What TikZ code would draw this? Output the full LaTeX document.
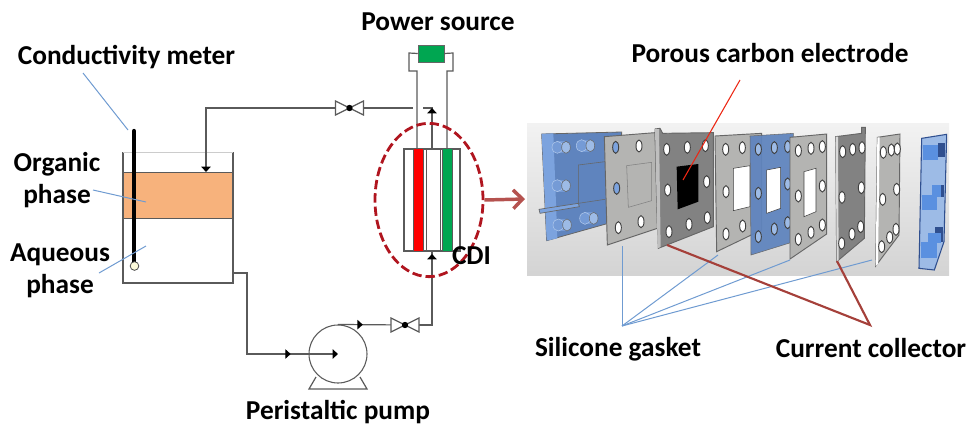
\documentclass[tikz,border=0pt]{standalone}
\usepackage{fontspec}
\setmainfont{Carlito}
\usetikzlibrary{positioning, shapes.geometric, arrows.meta, decorations.markings, calc}

\definecolor{pipegray}{HTML}{5A5A5A}
\definecolor{leadblue}{HTML}{6F9BD1}
\definecolor{leadred}{HTML}{A5403A}
\definecolor{ringred}{HTML}{B0151F}
\definecolor{arrowred}{HTML}{B5524F}
\definecolor{organicfill}{HTML}{F7B27C}
\definecolor{cellgreen}{HTML}{00A651}
\definecolor{platelight}{HTML}{B4B4B2}
\definecolor{platedark}{HTML}{828282}
\definecolor{plateblue}{HTML}{5F84BE}
\definecolor{platestrip}{HTML}{7CA3DE}
\definecolor{blocklight}{HTML}{9DBBE6}
\definecolor{blockbright}{HTML}{5A90E0}
\definecolor{blockdark}{HTML}{2F4F8F}

\newcommand{\plateholes}[2]{%
  \foreach \p in {#2} \draw[hole, fill=#1] \p ellipse (9 and 18);}
\newcommand{\valvesym}[1]{%
  \draw[pipe, fill=white] ($(#1)+(-14,-7)$) -- ($(#1)+(14,7)$) -- ($(#1)+(14,-7)$)
    -- ($(#1)+(-14,7)$) -- cycle;
  \fill[black] (#1) circle (3.2);}

\begin{document}
\begin{tikzpicture}[x=0.75pt, y=-0.75pt,
      lab/.style={font=\fontsize{20.5}{24}\selectfont\bfseries, inner sep=0pt, align=center},
      pipe/.style={draw=pipegray, line width=0.9pt},
      tipend/.style={-{Triangle[length=4pt,width=7pt,color=black]}},
      tip/.style={decoration={markings, mark=at position #1 with
                  {\arrow{Triangle[length=4pt,width=7pt,color=black]}}}, postaction={decorate}},
      lead/.style={draw=leadblue, line width=0.75pt},
      leadr/.style={draw=leadred, line width=1.6pt},
      hole/.style={draw=black!75, line width=0.7pt},
      plate/.style={draw=black!60, line width=0.7pt, fill=platelight},
      darkplate/.style={plate, fill=platedark},
      zoomed/.style={shift={(520,110)}, x=0.25pt, y=-0.25pt},
    ]
    \useasboundingbox (0,0) rectangle (968,425);

    % ---- tank ------------------------------------------------------
    \node[draw=pipegray, line width=0.7pt, fill=organicfill, minimum width=82.5pt,
          minimum height=34.5pt, inner sep=0pt] (organic) at (178,195) {};
    \draw[pipe] (123,152) -- (123,283) -- (233,283) -- (233,152);
    \draw[black!20, line width=0.5pt] (123,152) -- (233,152);
    \coordinate (tankout) at (233,273);
    \coordinate (tankin) at (206,172);

    % ---- probe -----------------------------------------------------
    \draw[black, line width=3.2pt, line cap=round] (134,131) -- (134,262);
    \node[circle, draw=black!70, fill=black!10!yellow!15!white, minimum size=6.5pt,
          inner sep=0pt, line width=0.6pt] (bulb) at (134.5,266) {};

    % ---- cell ------------------------------------------------------
    \node[draw=pipegray, line width=0.8pt, minimum width=42pt, minimum height=76.5pt,
          inner sep=0pt] (cdi) at (432,200) {};
    \fill[red] (413,149) rectangle (423,251);
    \fill[cellgreen] (442,149) rectangle (452,251);
    \foreach \xx in {413,423,426,440,442,452}
      \draw[pipegray, line width=0.7pt] (\xx,149) -- (\xx,251);

    % ---- power source ----------------------------------------------
    \node[draw=black!60, fill=cellgreen, minimum width=19.5pt,
          minimum height=12.5pt, inner sep=0pt] (power) at (431,53.5) {};
    \coordinate (wireL) at (417,149);
    \coordinate (wireR) at (447,149);
    \draw[pipe] (power.west) -- (409,53) -- (409,71) -- (417,71) -- (wireL);
    \draw[pipe] (power.east) -- (453,53) -- (453,71) -- (447,71) -- (wireR);

    % ---- pump and valves -------------------------------------------
    \node[circle, draw=pipegray, line width=0.8pt, minimum size=43.5pt, inner sep=0pt]
      (pump) at (338,354) {};
    \coordinate (valveA) at (349.5,108);
    \coordinate (valveB) at (405,325);
    \draw[pipe] (316,377) -- (309,389) -- (367,389) -- (360,377);

    % ---- pipes -----------------------------------------------------
    \draw[pipe] (tankout) -- (247,273) -- (247,354) -- (pump.west);
    \draw[pipe, tip=0.48, tipend] (247,354) -- (pump.center);
    \draw[pipe, tip=0.37] (pump.north) -- (valveB);
    \draw[pipe] (valveB) -- (432,325) -- (432,251);
    \draw[pipe, tipend] (432,272) -- (432,254);
    \draw[pipe] (valveA) -- (413,108);
    \draw[pipe] (valveA) -- (206,108) -- (206,165);
    \draw[pipe, tipend] (206,150) -- (tankin);
    \draw[pipe] (423,108) -- (432,108) -- (432,149);
    \draw[pipe, tipend] (432,125) -- (432,108);
    \valvesym{valveA}
    \valvesym{valveB}

    % ---- selection ring --------------------------------------------
    \node[ellipse, draw=ringred, line width=2.1pt, dash pattern=on 7pt off 3pt,
          minimum width=81pt, minimum height=115pt, inner sep=0pt] (ring) at (429,200) {};
    \coordinate (stackin) at (525,199);
    \draw[draw=arrowred, line width=2.6pt,
          -{Straight Barb[length=7pt,width=14pt]}] (ring.east) -- (stackin);

    % ---- exploded stack --------------------------------------------
    \shade[top color=black!5, bottom color=black!17] (527,123) rectangle (949,275);
    \begin{scope}[zoomed]
      % end plate
      \draw[black!60, line width=0.6pt, fill=plateblue] (65,72) -- (305,66) -- (300,330)
        -- (80,392) -- cycle;
      \fill[platestrip] (65,72) -- (100,70) -- (112,385) -- (80,392) -- cycle;
      \foreach \p in {(112,112),(185,107),(112,227),(115,345),(195,325)} {
        \fill[platestrip!75!plateblue] \p ++(0,-18) rectangle ++(26,36);
        \draw[platestrip!60!white, fill=platestrip!75!plateblue] \p ellipse (16 and 18);
        \draw[black!60, fill=blocklight] \p ++(26,0) ellipse (13 and 18);
      }
      \draw[black!60] (175,280) -- (175,165) -- (255,155);
      \draw[black!60] (175,280) -- (255,268);
      \draw[black!60, fill=platestrip, line width=0.5pt]
        (57,298) -- (175,280) -- (178,290) -- (60,310) -- cycle;

      % gasket
      \draw[plate] (253,80) -- (405,68) -- (412,355) -- (262,405) -- cycle;
      \draw[black!50] (320,167) -- (395,157) -- (395,272) -- (325,292) -- cycle;
      \plateholes{white}{(295,353),(363,335)}
      \plateholes{platestrip}{(287,112),(290,235)}
      \plateholes{white}{(357,108)}

      % collector with electrode
      \draw[darkplate] (405,57) -- (420,55) -- (428,70) -- (580,68) -- (580,350) -- (415,415) -- cycle;
      \fill[black!25] (405,57) -- (417,57) -- (422,411) -- (413,415) -- cycle;
      \fill[black] (470,170) -- (535,162) -- (535,275) -- (473,298) -- cycle;
      \plateholes{white}{(440,118),(502,112),(556,107),(443,240),(560,215),(447,365),(507,343),(562,323)}

      % gasket
      \draw[plate] (585,78) -- (725,70) -- (725,360) -- (590,425) -- cycle;
      \draw[black!75, fill=white] (640,175) -- (690,167) -- (690,290) -- (640,302) -- cycle;
      \plateholes{white}{(617,118),(667,113),(618,245),(618,372),(668,348)}

      % blue spacer
      \draw[black!60, fill=plateblue, opacity=0.94] (690,78) -- (820,70) -- (812,398) -- (693,435) -- cycle;
      \draw[black!75, fill=white] (740,180) -- (782,172) -- (782,295) -- (740,310) -- cycle;
      \plateholes{blocklight}{(715,118),(763,113),(803,110),(715,250),(803,222),(715,380),(763,357),(803,338)}

      % gasket
      \draw[plate] (810,82) -- (920,72) -- (920,372) -- (810,447) -- cycle;
      \draw[black!75, fill=white] (852,185) -- (888,175) -- (888,305) -- (852,320) -- cycle;
      \plateholes{white}{(835,122),(873,115),(907,110),(835,258),(907,228),(835,388),(873,367),(907,345)}

      % collector
      \draw[darkplate] (947,80) -- (1025,70) -- (1025,52) -- (1036,52) -- (1033,385) -- (950,455) -- cycle;
      \fill[black!15] (947,80) -- (954,80) -- (956,450) -- (950,455) -- cycle;
      \plateholes{white}{(968,125),(998,118),(1026,113),(966,262),(1024,233),(965,400),(996,372),(1022,350)}

      % gasket
      \draw[plate] (1072,82) -- (1140,72) -- (1137,375) -- (1067,468) -- cycle;
      \fill[white] (1072,82) -- (1079,82) -- (1074,462) -- (1067,468) -- cycle;
      \plateholes{white}{(1090,127),(1114,120),(1132,117),(1088,268),(1130,238),(1085,410),(1109,382),(1128,358)}

      % end block
      \draw[blockdark, line width=0.8pt, fill=blocklight] (1205,85) -- (1280,73) -- (1272,395)
        -- (1243,480) -- (1197,475) -- cycle;
      \fill[blockdark] (1255,100) rectangle (1275,140);
      \fill[blockdark] (1250,225) rectangle (1272,260);
      \fill[blockdark] (1245,350) rectangle (1268,395);
      \fill[blockbright] (1210,105) rectangle (1255,150);
      \fill[blockbright] (1235,225) rectangle (1262,260);
      \fill[blockbright] (1205,255) rectangle (1252,300);
      \fill[blockbright] (1225,370) rectangle (1262,400);
      \fill[blockbright] (1203,395) rectangle (1250,445);
    \end{scope}

    % ---- labels ----------------------------------------------------
    \node[lab] (condlab) at (126.5,57) {Conductivity meter};
    \node[lab] (orglab) at (57,180) {Organic\\phase};
    \node[lab] (aqlab) at (60,271) {Aqueous\\phase};
    \node[lab] (powerlab) at (438,22) {Power source};
    \node[lab] (pumplab) at (338,412) {Peristaltic pump};
    \node[lab] (cdilab) at (471.5,256) {CDI};
    \node[lab] (carbonlab) at (770,53) {Porous carbon electrode};
    \node[lab] (gasketlab) at (618,349) {Silicone gasket};
    \node[lab] (collab) at (871,348) {Current collector};

    % ---- leaders ---------------------------------------------------
    \coordinate (condA) at (83,73);
    \coordinate (condB) at (128,130);
    \coordinate (orgA) at (93,190);
    \coordinate (orgB) at (146,202);
    \coordinate (aqA) at (99,273);
    \coordinate (aqB) at (146,246);
    \draw[lead] (condA) -- (condB);
    \draw[lead] (orgA) -- (orgB);
    \draw[lead] (aqA) -- (aqB);

    \coordinate (gasketjoin) at (622,326);
    \foreach \pt in {(622,246),(718,255),(790,260),(872,260)}
      \draw[lead] (gasketjoin) -- \pt;

    \coordinate (coljoin) at (870,325);
    \draw[leadr] (667,245) -- (coljoin) -- (837,261);

    \coordinate (carbonA) at (740,80);
    \coordinate (carbonB) at (683,180);
    \draw[draw=red!70!brown, line width=0.8pt] (carbonA) -- (carbonB);

  \end{tikzpicture}
\end{document}
